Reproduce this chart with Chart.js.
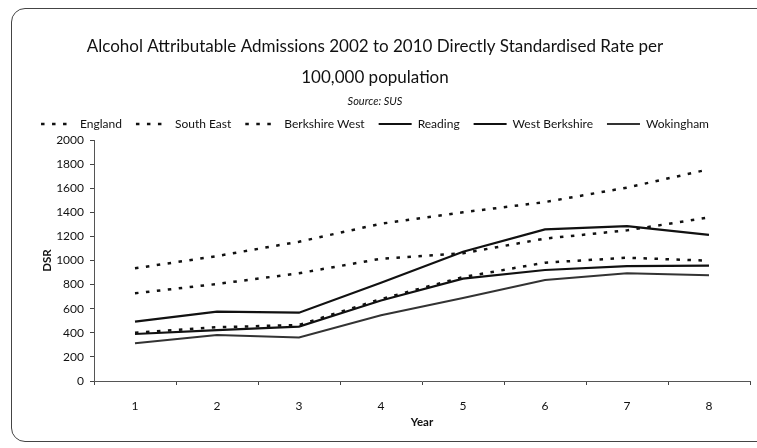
<!DOCTYPE html>
<html>
<head>
<meta charset="utf-8">
<script src="https://cdn.jsdelivr.net/npm/chart.js@4/dist/chart.umd.min.js"></script>
<style>
  html, body { margin: 0; padding: 0; background: #fff; }
  .wrap { position: relative; width: 757px; height: 448px; overflow: hidden; }
  .frame {
    position: absolute; left: 11px; top: 8px; width: 770px; height: 434px;
    border: 1px solid #444; border-radius: 14px; box-sizing: border-box;
  }
  canvas { position: absolute; left: 0; top: 0; }
</style>
</head>
<body>
<div class="wrap">
  <div class="frame"></div>
  <canvas id="dsrChart" width="757" height="448"></canvas>
</div>
<script>
// years 2002/03 .. 2009/10 are numbered 1..8 on the axis
const years = ['1', '2', '3', '4', '5', '6', '7', '8']
const england = [935, 1037, 1156, 1305, 1400, 1485, 1605, 1757]
const southEast = [728, 805, 894, 1015, 1060, 1182, 1250, 1358]
const berkshireWest = [400, 446, 465, 680, 862, 982, 1023, 998]
const reading = [492, 575, 567, 815, 1073, 1258, 1285, 1212]
const westBerkshire = [390, 423, 451, 668, 850, 921, 954, 957]
const wokingham = [313, 382, 362, 545, 688, 838, 894, 877]

const FONT = 'Lato, "Open Sans", sans-serif'

function dashed(label, data) {
    return {
        label: label,
        data: data,
        borderColor: '#111',
        backgroundColor: '#111',
        borderWidth: 2.5,
        borderDash: [3.5, 7.5],
        pointRadius: 0,
        tension: 0,
    }
}

function solid(label, data, color, width) {
    return {
        label: label,
        data: data,
        borderColor: color,
        backgroundColor: color,
        borderWidth: width,
        pointRadius: 0,
        tension: 0,
    }
}

const ctx = document.getElementById('dsrChart').getContext('2d')
const chart = new Chart(ctx, {
    type: 'line',
    data: {
        labels: years,
        datasets: [
            dashed('England', england),
            dashed('South East', southEast),
            dashed('Berkshire West', berkshireWest),
            solid('Reading', reading, '#111', 2.2),
            solid('West Berkshire', westBerkshire, '#111', 2.2),
            solid('Wokingham', wokingham, '#333', 2),
        ],
    },
    options: {
        responsive: false,
        animation: false,
        layout: {
            padding: { left: 0, right: 7, top: 0, bottom: 10 },
        },
        plugins: {
            tooltip: { enabled: false },
            title: {
                display: true,
                text: [
                    'Alcohol Attributable Admissions 2002 to 2010 Directly Standardised Rate per',
                    '100,000 population',
                ],
                color: '#111',
                font: { family: FONT, size: 17, weight: 'normal', lineHeight: 31 / 17 },
                padding: { top: 31.5, bottom: 0 },
            },
            subtitle: {
                display: true,
                text: 'Source: SUS',
                color: '#111',
                font: { family: FONT, size: 11, style: 'italic', lineHeight: 1.2 },
                padding: { top: 1, bottom: -3.7 },
            },
            legend: {
                display: true,
                position: 'top',
                align: 'center',
                labels: {
                    usePointStyle: true,
                    pointStyle: 'line',
                    pointStyleWidth: 33,
                    boxHeight: 12,
                    padding: 14,
                    color: '#111',
                    font: { family: FONT, size: 12 },
                    // point-style items lose the dataset dash, so put it back
                    generateLabels: function (chart) {
                        const items = Chart.defaults.plugins.legend.labels.generateLabels(chart)
                        items.forEach(function (item) {
                            const ds = chart.data.datasets[item.datasetIndex]
                            item.lineDash = ds.borderDash || []
                            item.lineWidth = ds.borderWidth
                            item.strokeStyle = ds.borderColor
                        })
                        return items
                    },
                },
            },
        },
        scales: {
            x: {
                offset: true,
                grid: {
                    offset: true,
                    drawOnChartArea: false,
                    drawTicks: true,
                    tickLength: 4,
                    color: '#444',
                },
                border: { display: true, color: '#555', width: 1 },
                ticks: {
                    color: '#111',
                    padding: 14,
                    font: { family: FONT, size: 12 },
                },
                title: {
                    display: true,
                    text: 'Year',
                    color: '#111',
                    font: { family: FONT, size: 11.5, weight: 'bold', lineHeight: 1.2 },
                    padding: { top: 0, bottom: 9 },
                },
                afterFit: function (scale) {
                    scale.height = 57
                },
            },
            y: {
                min: 0,
                max: 2000,
                grid: {
                    drawOnChartArea: false,
                    drawTicks: true,
                    tickLength: 4,
                    color: '#444',
                },
                border: { display: true, color: '#555', width: 1 },
                ticks: {
                    stepSize: 200,
                    color: '#111',
                    padding: 6,
                    font: { family: FONT, size: 12 },
                    callback: function (value) {
                        return String(value)
                    },
                },
                title: {
                    display: true,
                    text: 'DSR',
                    color: '#111',
                    font: { family: FONT, size: 11.5, weight: 'bold', lineHeight: 1.2 },
                    padding: { top: 40, bottom: 0 },
                },
                afterFit: function (scale) {
                    scale.width = 94
                },
            },
        },
    },
})
</script>
</body>
</html>
